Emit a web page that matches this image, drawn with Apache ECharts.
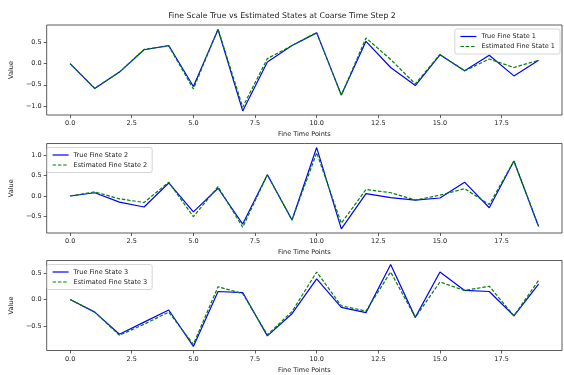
<!DOCTYPE html>
<html>
<head>
<meta charset="utf-8">
<script src="https://cdn.jsdelivr.net/npm/echarts@6/dist/echarts.min.js"></script>
<style>html,body{margin:0;padding:0;background:#fff;}#chart{width:564px;height:375px;}</style>
</head>
<body>
<div id="chart"></div>
<script>
const timePoints = Array.from({length: 20}, (_, i) => i);
const xTicks = [0, 2.5, 5, 7.5, 10, 12.5, 15, 17.5];

const trueState1 = [0.00, -0.59, -0.20, 0.33, 0.43, -0.54, 0.81, -1.12, 0.04, 0.43, 0.73, -0.74, 0.53, -0.09, -0.52, 0.21, -0.17, 0.20, -0.29, 0.08];
const estState1  = [0.00, -0.58, -0.20, 0.34, 0.42, -0.60, 0.82, -1.03, 0.12, 0.43, 0.74, -0.75, 0.61, 0.10, -0.48, 0.22, -0.17, 0.11, -0.09, 0.08];
const yTicks1 = [-1.0, -0.5, 0.0, 0.5];

const trueState2 = [0.00, 0.08, -0.15, -0.27, 0.32, -0.39, 0.19, -0.69, 0.52, -0.59, 1.19, -0.81, 0.06, -0.04, -0.10, -0.05, 0.34, -0.29, 0.86, -0.75];
const estState2  = [0.00, 0.10, -0.07, -0.16, 0.34, -0.51, 0.23, -0.77, 0.52, -0.59, 1.06, -0.67, 0.16, 0.08, -0.10, 0.02, 0.18, -0.21, 0.86, -0.75];
const yTicks2 = [-0.5, 0.0, 0.5, 1.0];

const trueState3 = [0.00, -0.24, -0.66, -0.43, -0.20, -0.89, 0.15, 0.13, -0.69, -0.27, 0.39, -0.15, -0.25, 0.66, -0.34, 0.52, 0.17, 0.15, -0.31, 0.29];
const estState3  = [0.00, -0.24, -0.68, -0.47, -0.24, -0.85, 0.24, 0.11, -0.67, -0.23, 0.52, -0.12, -0.22, 0.52, -0.34, 0.33, 0.17, 0.25, -0.31, 0.36];
const yTicks3 = [-0.5, 0.0, 0.5];

const titleText = 'Fine Scale True vs Estimated States at Coarse Time Step 2';
const xName = 'Fine Time Points';
const yName = 'Value';

const FONT = 'DejaVu Sans';
const fmt = v => (v < 0 ? '\u2212' : '') + Math.abs(v).toFixed(1);

function range(a, b) {
  const all = a.concat(b);
  const mn = Math.min(...all), mx = Math.max(...all);
  const m = (mx - mn) * 0.05;
  return [mn - m, mx + m];
}

const panels = [
  {t: trueState1, e: estState1, ticks: yTicks1, n: 1, top: 25, h: 90, legend: 'right'},
  {t: trueState2, e: estState2, ticks: yTicks2, n: 2, top: 143.5, h: 89.5, legend: 'left'},
  {t: trueState3, e: estState3, ticks: yTicks3, n: 3, top: 260.5, h: 90, legend: 'left'}
];

const grid = [], xAxis = [], yAxis = [], series = [], legend = [];
panels.forEach((p, i) => {
  grid.push({left: 44, right: 2, top: p.top, height: p.h, show: true, borderColor: '#333', borderWidth: 0.8, containLabel: false});
  xAxis.push({
    type: 'value', gridIndex: i, min: -0.95, max: 19.95,
    name: xName, nameLocation: 'middle', nameGap: 16,
    nameTextStyle: {fontFamily: FONT, fontSize: 6.5, color: '#222'},
    axisLine: {show: false, onZero: false},
    axisTick: {show: true, length: 3, lineStyle: {color: '#333', width: 0.8}, customValues: xTicks},
    axisLabel: {fontFamily: FONT, fontSize: 6.5, color: '#222', margin: 5, customValues: xTicks, formatter: v => fmt(v)},
    splitLine: {show: false}
  });
  const r = range(p.t, p.e);
  yAxis.push({
    type: 'value', gridIndex: i, min: r[0], max: r[1],
    name: yName, nameLocation: 'middle', nameGap: 27, nameRotate: 90,
    nameTextStyle: {fontFamily: FONT, fontSize: 6.5, color: '#222'},
    axisLine: {show: false, onZero: false},
    axisTick: {show: true, length: 3, lineStyle: {color: '#333', width: 0.8}, customValues: p.ticks},
    axisLabel: {fontFamily: FONT, fontSize: 6.5, color: '#222', margin: 5, customValues: p.ticks, formatter: v => fmt(v)},
    splitLine: {show: false}
  });
  const tn = 'True Fine State ' + p.n, en = 'Estimated Fine State ' + p.n;
  series.push({
    name: tn, type: 'line', xAxisIndex: i, yAxisIndex: i, symbol: 'none',
    data: timePoints.map((x, k) => [x, p.t[k]]),
    lineStyle: {color: '#0000ff', width: 1.2}, itemStyle: {color: '#0000ff'}, z: 2
  });
  series.push({
    name: en, type: 'line', xAxisIndex: i, yAxisIndex: i, symbol: 'none',
    data: timePoints.map((x, k) => [x, p.e[k]]),
    lineStyle: {color: '#008000', width: 1.2, type: [3.5, 1.8]}, itemStyle: {color: '#008000'}, z: 3
  });
  const lg = {
    data: [tn, en], orient: 'vertical',
    top: p.top + 4, itemWidth: 16, itemHeight: 8, itemGap: 3,
    padding: [4, 5, 4, 5],
    backgroundColor: 'rgba(255,255,255,0.8)', borderColor: '#ccc', borderWidth: 0.8, borderRadius: 2,
    textStyle: {fontFamily: FONT, fontSize: 6.5, color: '#222'},
    itemStyle: {opacity: 0},
    lineStyle: {width: 1.2},
    selectedMode: false
  };
  if (p.legend === 'right') lg.right = 4; else lg.left = 47;
  legend.push(lg);
});

const chart = echarts.init(document.getElementById('chart'), null, {renderer: 'canvas'});
chart.setOption({
  animation: false,
  backgroundColor: '#fff',
  title: {text: titleText, left: 'center', top: 7, textStyle: {fontFamily: FONT, fontSize: 7.8, fontWeight: 'normal', color: '#222'}},
  grid, xAxis, yAxis, series, legend
});
</script>
</body>
</html>
